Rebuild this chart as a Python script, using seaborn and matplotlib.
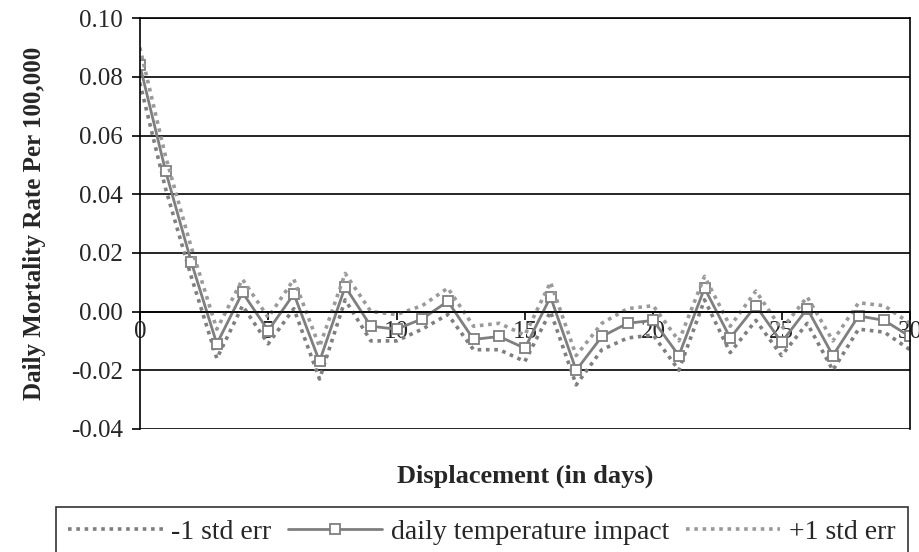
import matplotlib
matplotlib.use("Agg")
import matplotlib.pyplot as plt
import seaborn as sns
import pandas as pd

# data
days = list(range(31))
impact = [0.084, 0.048, 0.017, -0.011, 0.0065, -0.0065, 0.006, -0.017, 0.0085, -0.005,
          -0.006, -0.0025, 0.0035, -0.0095, -0.0085, -0.0125, 0.005, -0.020, -0.0085, -0.004,
          -0.003, -0.015, 0.008, -0.009, 0.002, -0.0105, 0.001, -0.015, -0.0015, -0.003, -0.0085]
minus_se = [0.078, 0.042, 0.012, -0.016, 0.002, -0.011, 0.001, -0.023, 0.004, -0.010,
            -0.010, -0.006, -0.001, -0.013, -0.013, -0.017, 0.000, -0.025, -0.013, -0.009,
            -0.008, -0.020, 0.004, -0.014, -0.003, -0.015, -0.004, -0.020, -0.006, -0.007, -0.013]
plus_se = [0.090, 0.053, 0.022, -0.006, 0.011, -0.002, 0.011, -0.012, 0.013, 0.000,
           -0.001, 0.002, 0.008, -0.005, -0.004, -0.008, 0.010, -0.015, -0.004, 0.001,
           0.002, -0.010, 0.012, -0.005, 0.007, -0.006, 0.005, -0.010, 0.003, 0.002, -0.004]

df = pd.DataFrame({"day": days, "impact": impact, "lo": minus_se, "hi": plus_se})

sns.set_style("white")
plt.rcParams['font.family'] = ['Liberation Serif', 'DejaVu Serif']

fig = plt.figure(figsize=(9.2, 5.52), dpi=100)
ax = fig.add_axes([0.152, 0.223, 0.837, 0.744])

gray = "#7f7f7f"
sns.lineplot(data=df, x="day", y="lo", ax=ax, color=gray, linewidth=2.6,
             dashes=False, label="-1 std err")
sns.lineplot(data=df, x="day", y="impact", ax=ax, color=gray, linewidth=2,
             marker="s", markersize=7, markerfacecolor="white", markeredgecolor=gray,
             markeredgewidth=1.3, label="daily temperature impact")
sns.lineplot(data=df, x="day", y="hi", ax=ax, color="#9a9a9a", linewidth=2.6,
             dashes=False, label="+1 std err")
ax.lines[0].set_linestyle((0, (1, 1.3)))
ax.lines[2].set_linestyle((0, (1, 1.3)))

ax.set_xlim(0, 30)
ax.set_ylim(-0.04, 0.10)
ax.set_yticks([-0.04, -0.02, 0.0, 0.02, 0.04, 0.06, 0.08, 0.10])
ax.set_yticklabels([f"{v:.2f}" for v in ax.get_yticks()])
ax.set_xticks([0, 5, 10, 15, 20, 25, 30])
ax.yaxis.grid(True, color="black", linewidth=1.2)
ax.set_axisbelow(True)

ax.spines['bottom'].set_position(('data', 0))
for s in ax.spines.values():
    s.set_color("black")
    s.set_linewidth(1.2)
ax.tick_params(axis='x', direction='out', length=6, width=1.2, color="black",
               labelsize=18, pad=1, bottom=True)
ax.tick_params(axis='y', direction='out', length=6, width=1.2, color="black",
               labelsize=18, left=True, pad=6)

ax.set_xlabel("")
ax.set_ylabel("Daily Mortality Rate Per 100,000", fontsize=18, fontweight="bold", labelpad=18)
fig.text(0.571, 0.138, "Displacement (in days)", ha="center", va="center",
         fontsize=19, fontweight="bold")

leg = ax.legend(loc="upper center", bbox_to_anchor=(0.444, -0.19), ncol=3, frameon=True,
                fontsize=20, handlelength=3.4, handletextpad=0.3, columnspacing=0.6,
                borderpad=0.45, borderaxespad=0, fancybox=False)
leg.get_frame().set_edgecolor("black")
leg.get_frame().set_linewidth(1.2)

fig.savefig("out.png", dpi=100)
